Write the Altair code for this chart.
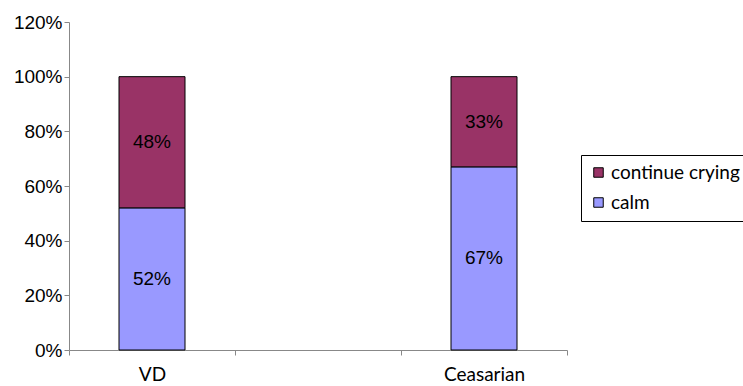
import altair as alt
import pandas as pd

# Categories on the x axis (the middle slot is an empty gap)
delivery = ["VD", "Ceasarian"]
x_domain = ["VD", " ", "Ceasarian"]

# Series values, in percent
calm = [52, 67]
continue_crying = [48, 33]

series_names = ["continue crying", "calm"]
series_colors = ["#993366", "#9999FF"]

rows = []
for i, d in enumerate(delivery):
    rows.append({"delivery": d, "status": "calm", "order": 0, "value": calm[i]})
    rows.append({"delivery": d, "status": "continue crying", "order": 1, "value": continue_crying[i]})
df = pd.DataFrame(rows)

base = alt.Chart(df).transform_stack(
    stack="value",
    groupby=["delivery"],
    sort=[alt.SortField("order", order="ascending")],
    as_=["y0", "y1"],
).transform_calculate(
    mid="(datum.y0 + datum.y1) / 2 / 100",
    lo="datum.y0 / 100",
    hi="datum.y1 / 100",
    label="datum.value + '%'",
)

x_enc = alt.X(
    "delivery:N",
    scale=alt.Scale(domain=x_domain, paddingInner=0, paddingOuter=0),
    axis=alt.Axis(
        title=None,
        labelAngle=0,
        labelFont="Lato",
        labelFontSize=19,
        labelColor="black",
        labelPadding=10,
        tickBand="extent",
        tickSize=5,
        tickColor="#888888",
        domainColor="#888888",
    ),
)

bars = base.mark_bar(width=66, stroke="black", strokeWidth=1).encode(
    x=x_enc,
    y=alt.Y(
        "lo:Q",
        scale=alt.Scale(domain=[0, 1.2], nice=False),
        axis=alt.Axis(
            title=None,
            format=".0%",
            values=[0, 0.2, 0.4, 0.6, 0.8, 1.0, 1.2],
            grid=False,
            labelFont="Liberation Sans",
            labelFontSize=19,
            labelColor="black",
            labelPadding=2,
            tickSize=5,
            tickColor="#888888",
            domainColor="#888888",
        ),
    ),
    y2="hi:Q",
    color=alt.Color(
        "status:N",
        scale=alt.Scale(domain=series_names, range=series_colors),
        legend=alt.Legend(
            title=None,
            orient="none",
            legendX=512,
            legendY=133,
            symbolType="square",
            symbolSize=90,
            symbolStrokeColor="black",
            symbolStrokeWidth=1,
            labelOffset=3,
            labelFont="Lato",
            labelFontSize=19,
            labelColor="black",
            labelLimit=300,
            strokeColor="black",
            fillColor="white",
            padding=8,
            rowPadding=10,
        ),
    ),
)

labels = base.mark_text(font="Liberation Sans", fontSize=19, color="black").encode(
    x=alt.X("delivery:N", scale=alt.Scale(domain=x_domain, paddingInner=0, paddingOuter=0)),
    y=alt.Y("mid:Q"),
    text="label:N",
)

chart = (
    alt.layer(bars, labels)
    .properties(
        width=498,
        height=328,
        autosize=alt.AutoSizeParams(type="none"),
        padding={"left": 69, "top": 22, "right": 176, "bottom": 36},
        background="white",
    )
    .configure_view(stroke=None)
)

chart.save("out.html", embed_options={"renderer": "svg", "actions": False})
